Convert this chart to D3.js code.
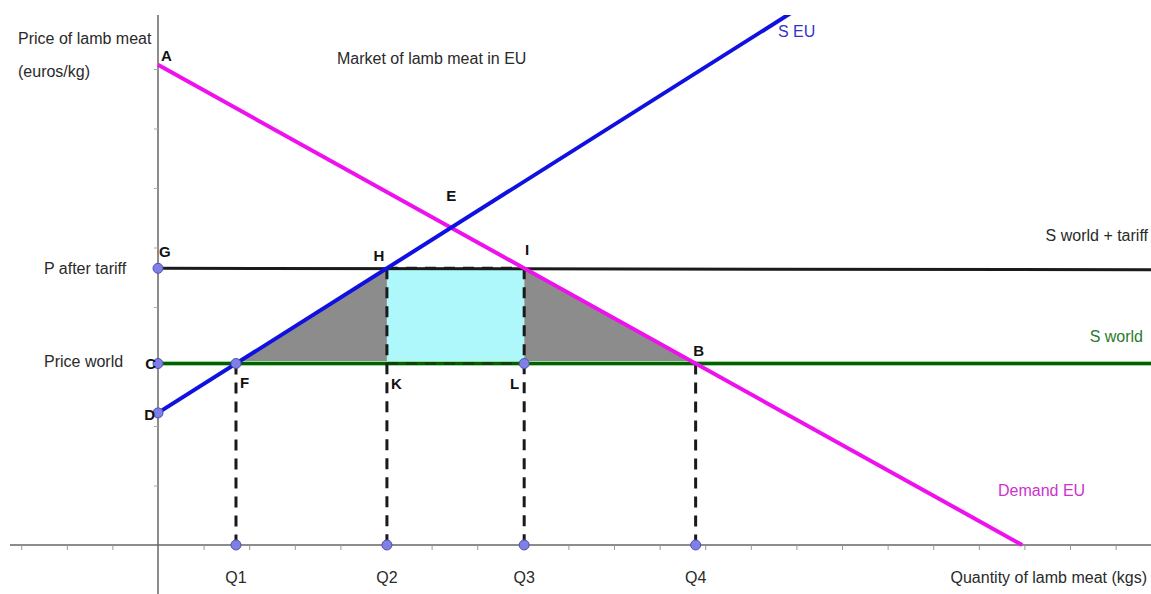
<!DOCTYPE html>
<html lang="en">
<head>
  <meta charset="UTF-8">
  <title>Market of lamb meat in EU</title>
  <script src="https://d3js.org/d3.v7.min.js"></script>
  <style>
    body { margin: 0; padding: 0; background: #fff; }
    text { font-family: "Liberation Sans", Arial, sans-serif; }
    .lbl { font-size: 16px; fill: #2a2a2a; }
    .pt-label { font-size: 15px; font-weight: bold; fill: #111; }
  </style>
</head>
<body>
  <div id="chart"></div>
  <script>
    const width = 1151, height = 594;

    // points (quantity units, price units)
    const pointNames = ["A", "D", "G", "C", "F", "H", "I", "E", "K", "L", "B"];
    const pointQ = [0, 0, 0, 0, 1.71, 5.02, 8.03, 6.43, 5.02, 8.03, 11.79];
    const pointP = [8.07, 2.22, 4.65, 3.05, 3.05, 4.65, 4.65, 5.33, 3.05, 3.05, 3.05];
    const markedPoints = ["G", "C", "D", "F", "L"];

    const qNames = ["Q1", "Q2", "Q3", "Q4"];
    const qValues = [1.71, 5.02, 8.03, 11.79];

    const demandQ = [0, 18.95];
    const demandP = [8.07, 0];
    const supplyQ = [0, 14.0];
    const supplyP = [2.22, 9.0];

    const worldPrice = 3.05;
    const tariffPrice = 4.65;

    const xTicks = d3.range(-3, 22).filter(d => d !== 0);
    const yTicks = d3.range(1, 9);

    const x = d3.scaleLinear().domain([-3.465, 21.776]).range([0, width]);
    const y = d3.scaleLinear().domain([-0.824, 9.16]).range([height, 0]);

    const P = {};
    pointNames.forEach((n, i) => P[n] = [pointQ[i], pointP[i]]);

    const svg = d3.select("#chart").append("svg")
      .attr("width", width).attr("height", height);

    svg.append("defs").append("clipPath").attr("id", "plot")
      .append("rect").attr("x", 0).attr("y", 15).attr("width", width).attr("height", height - 15);

    const g = svg.append("g").attr("clip-path", "url(#plot)");

    // axes
    g.append("line").attr("x1", 10).attr("x2", width).attr("y1", y(0)).attr("y2", y(0))
      .attr("stroke", "#666").attr("stroke-width", 1.5);
    g.append("line").attr("x1", x(0)).attr("x2", x(0)).attr("y1", 15).attr("y2", height)
      .attr("stroke", "#666").attr("stroke-width", 1.5);

    g.append("g").attr("transform", `translate(0,${y(0)})`)
      .call(d3.axisBottom(x).tickValues(xTicks).tickSize(5).tickFormat(""))
      .call(a => a.select(".domain").remove())
      .call(a => a.selectAll("line").attr("stroke", "#999"));
    g.append("g").attr("transform", `translate(${x(0)},0)`)
      .call(d3.axisLeft(y).tickValues(yTicks).tickSize(4).tickFormat(""))
      .call(a => a.select(".domain").remove())
      .call(a => a.selectAll("line").attr("stroke", "#aaa"));

    // shaded areas
    const poly = names => names.map(n => `${x(P[n][0])},${y(P[n][1])}`).join(" ");
    g.append("polygon").attr("points", poly(["F", "H", "K"])).attr("fill", "#8c8c8c");
    g.append("polygon").attr("points", poly(["I", "L", "B"])).attr("fill", "#8c8c8c");
    g.append("polygon").attr("points", poly(["H", "I", "L", "K"])).attr("fill", "#aef8fb");

    // horizontal supply lines
    g.append("line").attr("x1", x(0)).attr("x2", width).attr("y1", y(worldPrice)).attr("y2", y(worldPrice))
      .attr("stroke", "#8fe08f").attr("stroke-width", 5);
    g.append("line").attr("x1", x(0)).attr("x2", width).attr("y1", y(worldPrice)).attr("y2", y(worldPrice))
      .attr("stroke", "#0a5a0a").attr("stroke-width", 3);
    g.append("line").attr("x1", x(0)).attr("x2", width).attr("y1", y(tariffPrice)).attr("y2", y(tariffPrice) + 1.5)
      .attr("stroke", "#1a1a1a").attr("stroke-width", 3);

    // dashed drop lines
    const dash = (q1, p1, q2, p2) => g.append("line")
      .attr("x1", x(q1)).attr("y1", y(p1)).attr("x2", x(q2)).attr("y2", y(p2))
      .attr("stroke", "#1a1a1a").attr("stroke-width", 3).attr("stroke-dasharray", "11,8");
    qValues.forEach((q, i) => {
      const top = i === 0 || i === 3 ? worldPrice : tariffPrice;
      dash(q, top, q, 0);
    });
    dash(P.H[0], tariffPrice, P.I[0], tariffPrice);
    dash(P.K[0], worldPrice, P.L[0], worldPrice).attr("stroke", "#153a15");

    // demand and EU supply
    const line = d3.line().x(d => x(d[0])).y(d => y(d[1]));
    g.append("path").datum(demandQ.map((q, i) => [q, demandP[i]]))
      .attr("d", line).attr("stroke", "#ee11ee").attr("stroke-width", 4).attr("fill", "none");
    g.append("path").datum(supplyQ.map((q, i) => [q, supplyP[i]]))
      .attr("d", line).attr("stroke", "#1010e0").attr("stroke-width", 4).attr("fill", "none");

    // point markers
    const marks = markedPoints.map(n => P[n]).concat(qValues.map(q => [q, 0]));
    g.selectAll("circle.pt").data(marks).join("circle").attr("class", "pt")
      .attr("cx", d => x(d[0])).attr("cy", d => y(d[1])).attr("r", 5)
      .attr("fill", "#7f7fe6").attr("stroke", "#5050b0").attr("stroke-width", 1);

    // point labels
    const offsets = {
      A: [3, -4, "start"], D: [-3, 7, "end"], G: [1, -11, "start"], C: [-2, 5, "end"],
      F: [4, 24, "start"], H: [-8, -7, "middle"], I: [3, -13, "middle"], E: [0, -27, "middle"],
      K: [4, 25, "start"], L: [-5, 25, "end"], B: [3, -8, "middle"]
    };
    svg.selectAll("text.pt-label").data(pointNames).join("text").attr("class", "pt-label")
      .attr("x", n => x(P[n][0]) + offsets[n][0])
      .attr("y", n => y(P[n][1]) + offsets[n][1])
      .attr("text-anchor", n => offsets[n][2])
      .text(n => n);

    svg.selectAll("text.q-label").data(qNames).join("text").attr("class", "lbl q-label")
      .attr("x", (d, i) => x(qValues[i])).attr("y", 583)
      .attr("text-anchor", "middle").text(d => d);

    // text labels
    const text = (tx, ty, s, anchor, color) => svg.append("text").attr("class", "lbl")
      .attr("x", tx).attr("y", ty).attr("text-anchor", anchor || "start")
      .style("fill", color || "#2a2a2a").text(s);
    text(18, 44, "Price of lamb meat");
    text(18, 77, "(euros/kg)");
    text(337, 64, "Market of lamb meat in EU");
    text(778, 37, "S EU", "start", "#3434c8");
    text(1148, 241, "S world + tariff", "end");
    text(44, 274, "P after tariff");
    text(1143, 342, "S world", "end", "#2c7a2c");
    text(44, 367, "Price world");
    text(998, 496, "Demand EU", "start", "#cc33cc");
    text(1147, 583, "Quantity of lamb meat (kgs)", "end");
  </script>
</body>
</html>
